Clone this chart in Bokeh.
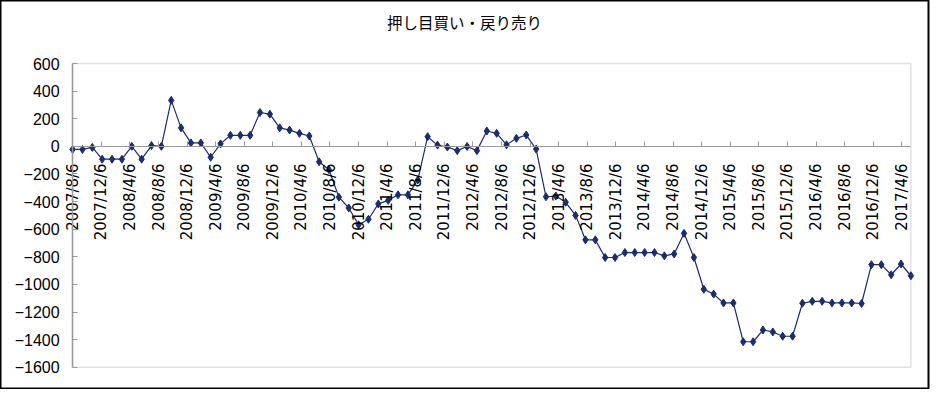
from datetime import datetime
from math import pi

from bokeh.plotting import figure
from bokeh.models import Range1d, FixedTicker, BoxAnnotation, Label
from bokeh.embed import file_html
from bokeh.resources import INLINE

# ---------------- data ----------------
title_text = "押し目買い・戻り売り"
start_date = "2007/8/6"
step_days = 42  # one observation every six weeks

values = [
    -22, -22, -8, -93, -93, -93, 0, -93, 6, 0,
    333, 134, 25, 25, -79, 18, 80, 80, 80, 245,
    233, 134, 118, 94, 75, -112, -169, -368, -446, -568,
    -528, -417, -391, -351, -351, -244, 70, 9, -5, -31,
    -1, -31, 111, 94, 11, 58, 82, -20, -365, -360,
    -405, -500, -677, -677, -805, -805, -769, -769, -769, -769,
    -793, -779, -630, -805, -1035, -1070, -1134, -1134, -1415, -1415,
    -1330, -1344, -1375, -1375, -1136, -1122, -1122, -1134, -1134, -1134,
    -1138, -857, -857, -930, -852, -937,
]

tick_labels = [
    "2007/8/6", "2007/12/6", "2008/4/6", "2008/8/6", "2008/12/6",
    "2009/4/6", "2009/8/6", "2009/12/6", "2010/4/6", "2010/8/6",
    "2010/12/6", "2011/4/6", "2011/8/6", "2011/12/6", "2012/4/6",
    "2012/8/6", "2012/12/6", "2013/4/6", "2013/8/6", "2013/12/6",
    "2014/4/6", "2014/8/6", "2014/12/6", "2015/4/6", "2015/8/6",
    "2015/12/6", "2016/4/6", "2016/8/6", "2016/12/6", "2017/4/6",
]

y_ticks = [-1600, -1400, -1200, -1000, -800, -600, -400, -200, 0, 200, 400, 600]

# ---------------- derived x positions (days since first observation) ----------------
t0 = datetime.strptime(start_date, "%Y/%m/%d")
x = [i * step_days for i in range(len(values))]
tick_pos = [(datetime.strptime(s, "%Y/%m/%d") - t0).days for s in tick_labels]
x_min, x_max = x[0], x[-1]
y_min, y_max = y_ticks[0], y_ticks[-1]

# ---------------- layout (pixels) ----------------
W, H = 932, 389                      # canvas
BORDER_R, BORDER_B = 928, 388        # outer chart border (frame)
PA_L, PA_R, PA_T, PA_B = 72.1, 910.4, 63.0, 366.8   # plot area inside the frame
TITLE_X, TITLE_Y = 464, 21.5

kx = (x_max - x_min) / (PA_R - PA_L)
ky = (y_max - y_min) / (PA_B - PA_T)
x_range = Range1d(x_min - PA_L * kx, x_max + (BORDER_R - PA_R) * kx)
y_range = Range1d(y_min - (BORDER_B - PA_B) * ky, y_max + PA_T * ky)

LINE = "#1c2c6c"
GRAY = "#9a9a9a"

p = figure(
    width=W, height=H,
    output_backend="svg", toolbar_location=None,
    x_range=x_range, y_range=y_range,
    min_border_left=0, min_border_top=0,
    min_border_right=W - BORDER_R, min_border_bottom=H - BORDER_B,
)
p.background_fill_color = "white"
p.border_fill_color = "white"
p.outline_line_color = "#000000"
p.outline_line_width = 2
p.grid.visible = False

# plot-area box
p.add_layout(BoxAnnotation(left=x_min, right=x_max, bottom=y_min, top=y_max,
                           fill_alpha=0, line_color=GRAY, line_width=1.5, level="underlay"))

p.line(x, values, line_color=LINE, line_width=1.2)
p.scatter(x, values, marker="diamond", size=8, fill_color=LINE, line_color=LINE)

# title
p.add_layout(Label(x=x_min + (TITLE_X - PA_L) * kx, y=y_max + (PA_T - TITLE_Y) * ky,
                   text=title_text, text_align="center", text_baseline="middle",
                   text_font="Noto Sans CJK JP", text_font_size="15.5px",
                   text_color="#000000"))

# x axis crossing at 0
xa = p.xaxis[0]
xa.fixed_location = 0
xa.bounds = (x_min, x_max)
xa.ticker = FixedTicker(ticks=tick_pos)
xa.major_label_overrides = {pos: lab for pos, lab in zip(tick_pos, tick_labels)}
xa.major_label_orientation = pi / 2
xa.major_label_standoff = 17
xa.major_label_text_font = "DejaVu Sans"
xa.major_label_text_font_size = "15px"
xa.major_label_text_color = "#000000"
xa.axis_line_color = GRAY
xa.axis_line_width = 1.2
xa.major_tick_line_color = GRAY
xa.major_tick_in = 5
xa.major_tick_out = 0
xa.minor_tick_line_color = None

# y axis at the left edge of the plot area
ya = p.yaxis[0]
ya.fixed_location = x_min
ya.bounds = (y_min, y_max)
ya.ticker = FixedTicker(ticks=y_ticks)
ya.major_label_text_font = "Liberation Sans"
ya.major_label_text_font_size = "16px"
ya.major_label_text_color = "#000000"
ya.major_label_standoff = 13
ya.axis_line_color = GRAY
ya.axis_line_width = 1.5
ya.major_tick_line_color = GRAY
ya.major_tick_in = 5
ya.major_tick_out = 0
ya.minor_tick_line_color = None

open("out.html", "w").write(file_html(p, INLINE))
